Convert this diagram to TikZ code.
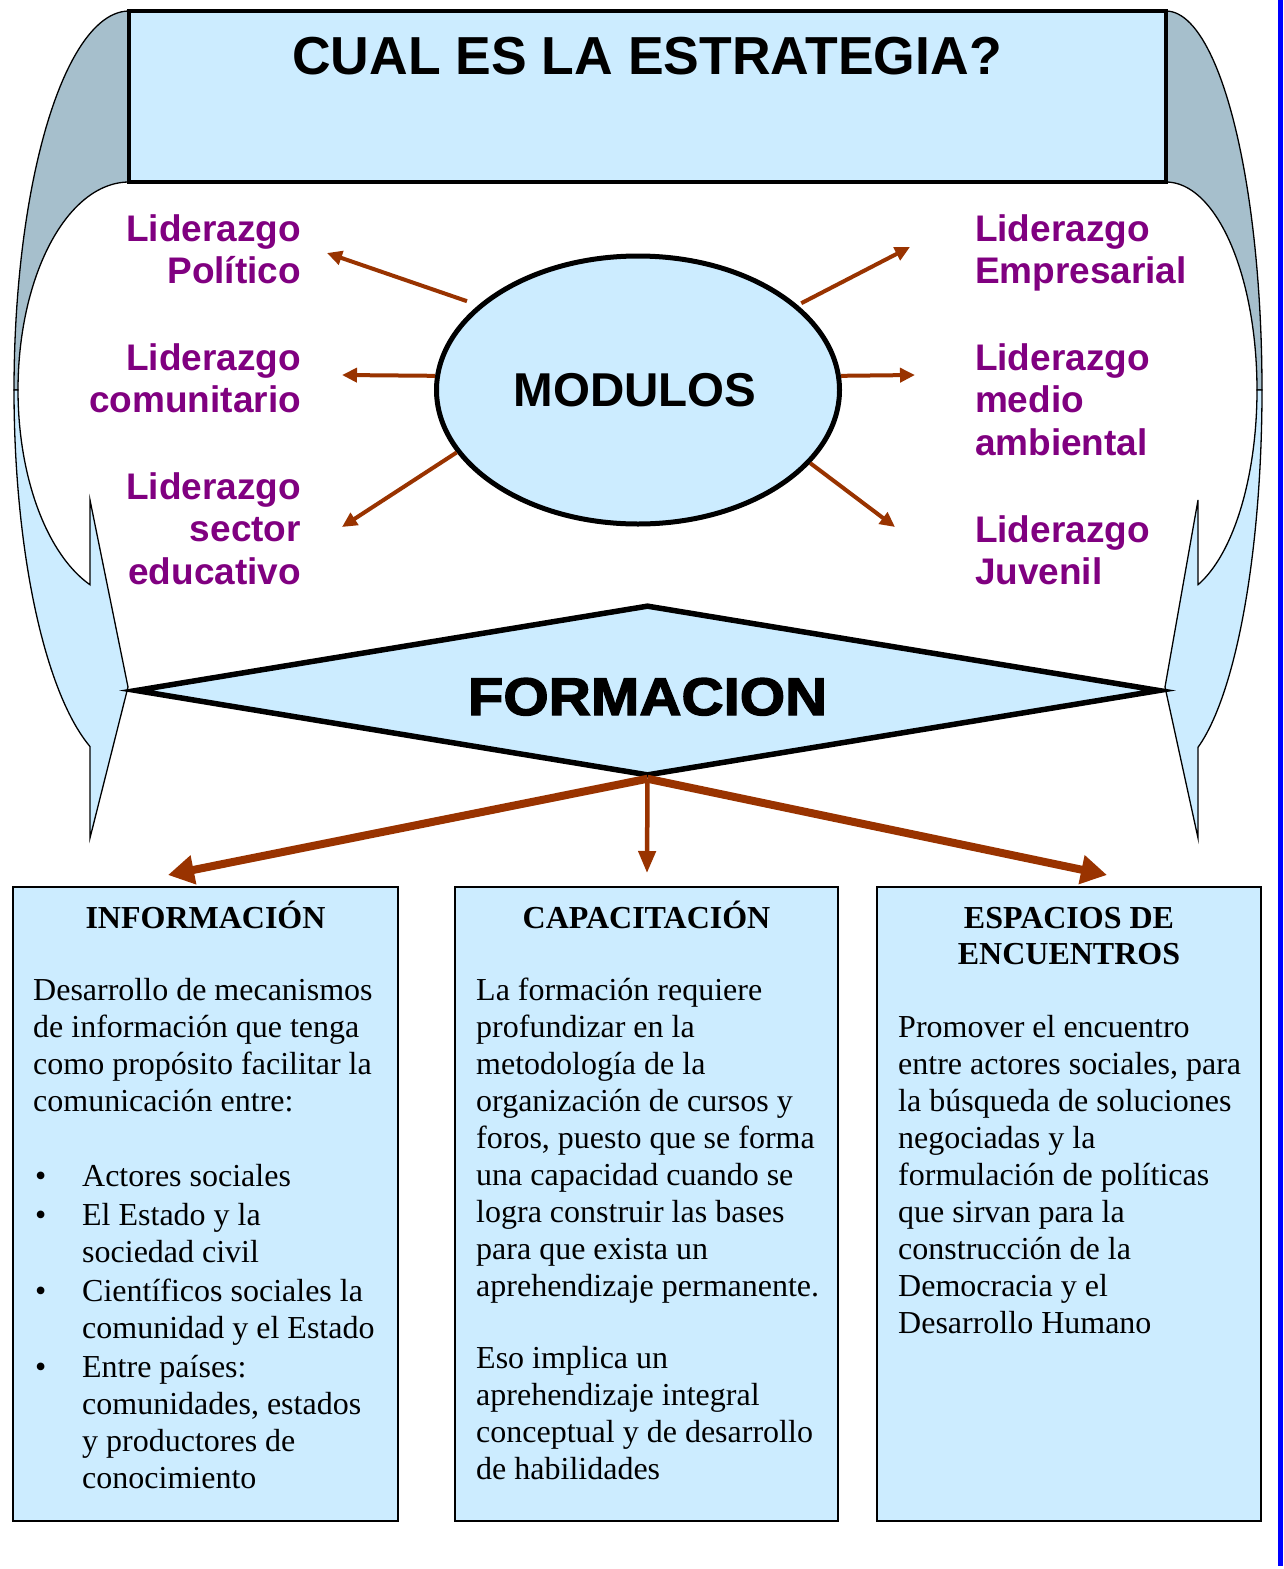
\documentclass[tikz,border=0pt]{standalone}
\usepackage{fontspec}
\setmainfont{Liberation Serif}
\newfontfamily\arial{Liberation Sans}
\newfontfamily\formfont{Liberation Sans}[BoldFeatures={FakeStretch=1.1,FakeBold=2.5}]
\usetikzlibrary{arrows.meta,shapes.geometric}
\definecolor{lb}{HTML}{CCECFF}
\definecolor{gb}{HTML}{A6BFCC}
\definecolor{brn}{HTML}{993300}
\definecolor{purp}{HTML}{800080}
\newcommand{\bitem}[1]{\makebox[49pt][l]{\hspace{2pt}\textbullet}#1}
\newcommand{\bcont}[1]{\hspace*{49pt}#1}
\begin{document}
\begin{tikzpicture}[x=1pt,y=-1pt,
  lab/.style={font=\arial\bfseries\fontsize{37}{42.5}\selectfont, text=purp, inner sep=0pt, outer sep=0pt},
  labL/.style={lab, align=right, anchor=base east},
  labR/.style={lab, align=left, anchor=base west},
  marrow/.style={draw=brn, line width=4pt, -{Triangle[length=15pt,width=14pt]}},
  farrow/.style={draw=brn, line width=8pt, -{Triangle[length=26pt,width=28pt]}},
  carrow/.style={draw=brn, line width=4.5pt, -{Triangle[length=22pt,width=17pt]}},
  boxst/.style={draw=black, line width=1.6pt, fill=lb, inner sep=0pt, outer sep=0pt, anchor=north west, minimum height=634pt},
  body/.style={font=\fontsize{32}{37}\selectfont, align=left, anchor=base west, inner sep=0pt},
  head/.style={font=\bfseries\fontsize{32}{36}\selectfont, align=center, anchor=base, inner sep=0pt},
  curl/.style={draw=black, line width=1.3pt},
]
\useasboundingbox (0,0) rectangle (1283,1569);
\fill[white] (0,0) rectangle (1283,1569);

% right blue bar
\fill[blue] (1278,0) rectangle (1283,1566);

% curled arrows (back parts)
\path[curl, fill=gb] plot[domain=90:180,samples=50] ({129+115*cos(\x)},{390-379*sin(\x)})
   -- plot[domain=180:90,samples=50] ({129+111*cos(\x)},{390-208*sin(\x)}) -- cycle;
\path[curl, fill=gb] plot[domain=90:0,samples=50] ({1166+96*cos(\x)},{390-379*sin(\x)})
   -- plot[domain=0:90,samples=50] ({1166+91*cos(\x)},{390-208*sin(\x)}) -- cycle;
% curled arrows (front parts)
\path[curl, fill=lb] plot[domain=180:250.18,samples=50] ({129+115*cos(\x)},{390-379*sin(\x)})
   -- (90,838) -- (128,687) -- (90,500) -- (90,584.7)
   -- plot[domain=249.43:180,samples=50] ({129+111*cos(\x)},{390-208*sin(\x)}) -- cycle;
\path[curl, fill=lb] plot[domain=0:-70.53,samples=50] ({1166+96*cos(\x)},{390-379*sin(\x)})
   -- (1198,838) -- (1165,687) -- (1198,500) -- (1198,584.7)
   -- plot[domain=-69.41:0,samples=50] ({1166+91*cos(\x)},{390-208*sin(\x)}) -- cycle;

% title
\node[draw=black, line width=4.5pt, fill=lb, minimum width=1037pt, minimum height=171pt, inner sep=0pt] (titlebox) at (647.5,96.5) {};
\node[font=\arial\bfseries\fontsize{53.5}{60}\selectfont, anchor=base, inner sep=0pt] (title) at (647,74) {CUAL ES LA ESTRATEGIA?};

% modulos
\node[ellipse, draw=black, line width=5pt, fill=lb, minimum width=403pt, minimum height=268pt, inner sep=0pt,
      font=\arial\bfseries\fontsize{47.5}{50}\selectfont] (mod) at (638,390) {\hspace*{-6pt}MODULOS};

% labels (anchor at baseline of last line)
\node[labL] (lpol) at (301,283.5) {Liderazgo\\Político};
\node[labL] (lcom) at (301,412.5) {Liderazgo\\comunitario};
\node[labL] (ledu) at (301,584) {Liderazgo\\sector\\educativo};
\node[labR] (lemp) at (975,283.5) {Liderazgo\\Empresarial};
\node[labR] (lmed) at (975,455) {Liderazgo\\medio\\ambiental};
\node[labR] (ljuv) at (975,584.5) {Liderazgo\\Juvenil};

\coordinate (epol) at (327,253);
\coordinate (ecom) at (342,375);
\coordinate (eedu) at (342,527);
\coordinate (eemp) at (910,247);
\coordinate (emed) at (915,375);
\coordinate (ejuv) at (895,527);
\draw[marrow, shorten <=12pt] (mod.152) -- (epol);
\draw[marrow] (mod.176) -- (ecom);
\draw[marrow] (mod.199.5) -- (eedu);
\draw[marrow, shorten <=4pt] (mod.28.7) -- (eemp);
\draw[marrow] (mod.4.3) -- (emed);
\draw[marrow] (mod.337.8) -- (ejuv);

% formacion
\node[diamond, draw=black, line width=5.5pt, fill=lb, aspect=6, minimum width=1025pt, minimum height=171pt, inner sep=0pt,
      font=\formfont\bfseries\fontsize{53}{53}\selectfont] (form) at (647.5,690.5) {\raisebox{-24.5pt}[0pt][0pt]{FORMACION}};

\coordinate (fl) at (168,875);
\coordinate (fc) at (647,873);
\coordinate (fr) at (1107,875);
\draw[farrow] (form.south) -- (fl);
\draw[carrow] (form.south) -- (fc);
\draw[farrow] (form.south) -- (fr);

% boxes
\node[boxst, minimum width=385pt] (b1) at (13,887) {};
\node[boxst, minimum width=383pt] (b2) at (455,887) {};
\node[boxst, minimum width=384pt] (b3) at (877,887) {};

\node[head] (h1) at (205.5,928) {INFORMACIÓN};
\node[head] (h2) at (646.5,928) {CAPACITACIÓN};
\node[head] (h3) at (1069,964) {ESPACIOS DE\\ENCUENTROS};

\node[body] (t1) at (33,1111) {Desarrollo de mecanismos\\de información que tenga\\como propósito facilitar la\\comunicación entre:};
\node[body] (t1b) at (33,1488) {\bitem{Actores sociales}\\[2pt]
  \bitem{El Estado y la}\\\bcont{sociedad civil}\\[2pt]
  \bitem{Científicos sociales la}\\\bcont{comunidad y el Estado}\\[2pt]
  \bitem{Entre países:}\\\bcont{comunidades, estados}\\\bcont{y productores de}\\\bcont{conocimiento}};

\node[body] (t2) at (476,1296) {La formación requiere\\profundizar en la\\metodología de la\\organización de cursos y\\foros, puesto que se forma\\una capacidad cuando se\\logra construir las bases\\para que exista un\\aprehendizaje permanente.};
\node[body] (t2b) at (476,1479) {Eso implica un\\aprehendizaje integral\\conceptual y de desarrollo\\de habilidades};

\node[body] (t3) at (898,1333) {Promover el encuentro\\entre actores sociales, para\\la búsqueda de soluciones\\negociadas y la\\formulación de políticas\\que sirvan para la\\construcción de la\\Democracia y el\\Desarrollo Humano};
\end{tikzpicture}
\end{document}
